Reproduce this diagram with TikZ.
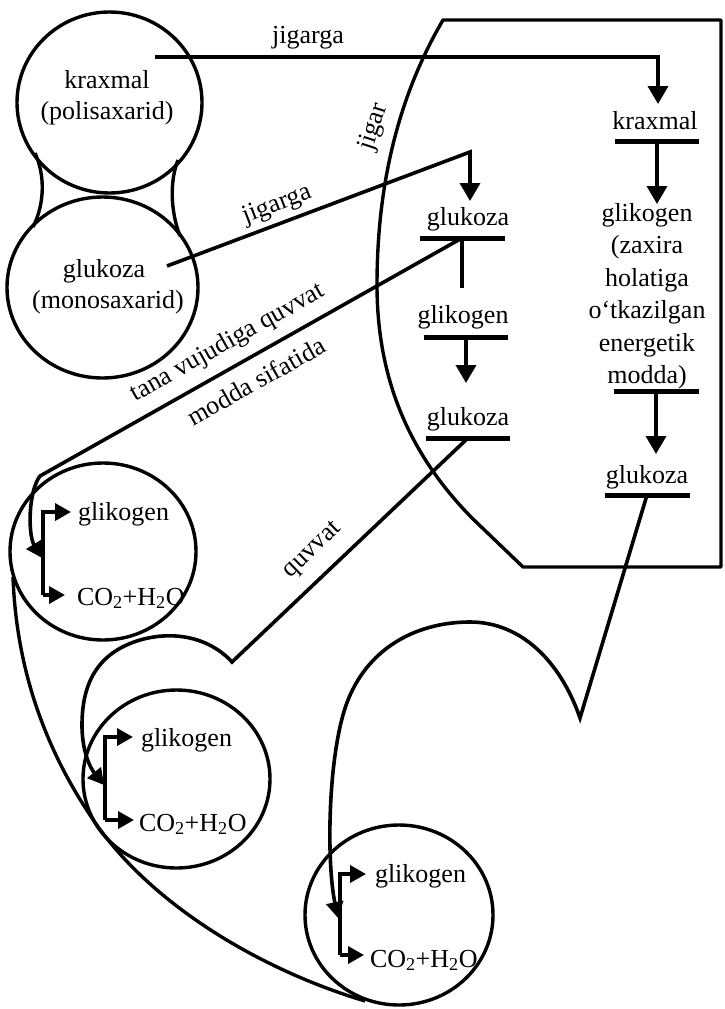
\documentclass[tikz,border=0pt]{standalone}
\usepackage{fontspec}
\setmainfont{Liberation Serif}
\usetikzlibrary{arrows.meta,shapes.geometric}
\begin{document}
\begin{tikzpicture}[x=1pt,y=-1pt,
  txt/.style={font=\fontsize{26}{32.5}\selectfont, inner sep=0pt, outer sep=0pt},
  circ/.style={draw, ellipse, line width=3.4pt, inner sep=0pt, outer sep=0pt},
  ln/.style={line width=3.6pt},
  barnode/.style={fill=black, inner sep=0pt, outer sep=0pt, minimum height=5pt, minimum width=85pt},
  bigarr/.style={ln, -{Triangle[length=18pt,width=20pt]}},
  smallarr/.style={ln, -{Triangle[length=16pt,width=17pt]}},
  shapeline/.style={line width=3.4pt, line join=round}
]
\useasboundingbox (0,0) rectangle (724,1009);
\fill[white] (0,0) rectangle (724,1009);

% liver outline
\draw[shapeline] (443,20) -- (721,20) -- (721,567) -- (523,567) -- (472,518)
  .. controls (410,455) and (377,380) .. (377,285)
  .. controls (377,170) and (405,85) .. (443,20) -- cycle;
\node[txt, rotate=72] (jigar) at (374,127) {jigar};

% top-left circles
\node[circ, minimum width=185pt, minimum height=181pt] (c1) at (109.5,102.5) {};
\node[circ, minimum width=191pt, minimum height=181pt] (c2) at (102.5,287.5) {};
\draw[shapeline] (35,153) .. controls (45,175) and (45,203) .. (33,227);
\draw[shapeline] (178,160) .. controls (170,180) and (170,210) .. (180,236);
\node[txt, anchor=base] (c1a) at (107,88) {kraxmal};
\node[txt, anchor=base] (c1b) at (107,119) {(polisaxarid)};
\node[txt, anchor=base] (c2a) at (104,277) {glukoza};
\node[txt, anchor=base] (c2b) at (108,308) {(monosaxarid)};

% first jigarga
\coordinate (j1s) at (155,57);
\coordinate (j1c) at (658,57);
\coordinate (j1e) at (658,104);
\draw[bigarr] (j1s) -- (j1c) -- (j1e);
\node[txt, anchor=base] (j1l) at (308,43) {jigarga};

% right column
\node[txt, anchor=base] (rk) at (655,129) {kraxmal};
\node[barnode, minimum width=84pt] (rkbar) at (657,141) {};
\coordinate (rke) at (657,204);
\draw[bigarr] (rkbar.center) -- (rke);
\foreach \t [count=\i] in {{glikogen},{(zaxira},{holatiga},{o‘tkazilgan},{energetik},{modda)}}
  \node[txt, anchor=base] (gz\i) at (647,{221+32.5*(\i-1)}) {\t};
\node[barnode] (mbar) at (656,391) {};
\coordinate (me) at (656,454);
\draw[bigarr] (mbar.center) -- (me);
\node[txt, anchor=base] (rg) at (647,483) {glukoza};
\node[barnode] (rgbar) at (647,495) {};
\coordinate (notch) at (580,718);

% second jigarga and left column
\coordinate (j2s) at (167,266);
\coordinate (j2c) at (470,152);
\coordinate (j2e) at (470,201);
\draw[bigarr] (j2s) -- (j2c) -- (j2e);
\node[txt, rotate=20.8] (j2l) at (277,205) {jigarga};
\node[txt, anchor=base] (lg1) at (468,225) {glukoza};
\node[barnode] (lg1bar) at (462,238) {};
\coordinate (s1e) at (462,288);
\draw[ln] (lg1bar.center) -- (s1e);
\node[txt, anchor=base] (lk) at (463,323) {glikogen};
\node[barnode, minimum width=84pt] (lkbar) at (466,337) {};
\coordinate (lke) at (466,383);
\draw[bigarr] (lkbar.center) -- (lke);
\node[txt, anchor=base] (lg2) at (468,425) {glukoza};
\node[barnode, minimum width=84pt] (lg2bar) at (468,438) {};

% small circles
\node[circ, minimum width=186pt, minimum height=177pt] (s1) at (103,551.5) {};
\node[circ, minimum width=187pt, minimum height=178pt] (s2) at (176.5,779) {};
\node[circ, minimum width=188pt, minimum height=180pt] (s3) at (399,915) {};

% brackets in small circles
\coordinate (b1t) at (43,512); \coordinate (b1b) at (43,595);
\coordinate (b1g) at (71,512); \coordinate (b1c) at (65,595);
\draw[smallarr] (b1b) -- (b1t) -- (b1g);
\draw[smallarr] (b1b) -- (b1c);
\node[txt, anchor=base west] (s1g) at (78,520) {glikogen};
\node[txt, anchor=base west] (s1c) at (77,605) {CO\textsubscript{2}+H\textsubscript{2}O};

\coordinate (b2t) at (105,737); \coordinate (b2b) at (105,820);
\coordinate (b2g) at (133,737); \coordinate (b2c) at (134,820);
\draw[smallarr] (b2b) -- (b2t) -- (b2g);
\draw[smallarr] (b2b) -- (b2c);
\node[txt, anchor=base west] (s2g) at (141,746) {glikogen};
\node[txt, anchor=base west] (s2c) at (139,831) {CO\textsubscript{2}+H\textsubscript{2}O};

\coordinate (b3t) at (340,874); \coordinate (b3b) at (340,955);
\coordinate (b3g) at (366,874); \coordinate (b3c) at (364,955);
\draw[smallarr] (b3b) -- (b3t) -- (b3g);
\draw[smallarr] (b3b) -- (b3c);
\node[txt, anchor=base west] (s3g) at (375,882) {glikogen};
\node[txt, anchor=base west] (s3c) at (370,967) {CO\textsubscript{2}+H\textsubscript{2}O};

% tana vujudiga connector
\coordinate (tn1) at (40,476);
\coordinate (b1in) at (42,558);
\draw[smallarr] (lg1bar.center) -- (tn1) .. controls (28,492) and (28,535) .. (b1in);
\node[txt, rotate=29.2] (tl1) at (228,343) {tana vujudiga quvvat};
\node[txt, rotate=29.2] (tl2) at (256,381) {modda sifatida};

% quvvat connector
\coordinate (cusp) at (232,662);
\coordinate (b2in) at (104,785);
\draw[smallarr] (lg2bar.center) -- (cusp) .. controls (210,638) and (175,630) .. (140,640)
  .. controls (100,652) and (82,680) .. (82,725) .. controls (82,760) and (96,775) .. (b2in);
\node[txt, rotate=44] (ql) at (313,551) {quvvat};

% notch connector
\coordinate (b3in) at (338,918);
\draw[smallarr] (rgbar.center) -- (notch) .. controls (560,660) and (520,622) .. (470,622)
  .. controls (420,622) and (370,645) .. (348,700) .. controls (328,750) and (326,860) .. (b3in);

% outer curve
\draw[shapeline] (13,577) .. controls (16,660) and (40,740) .. (90,815)
  .. controls (145,900) and (255,968) .. (365,1001);
\end{tikzpicture}
\end{document}
